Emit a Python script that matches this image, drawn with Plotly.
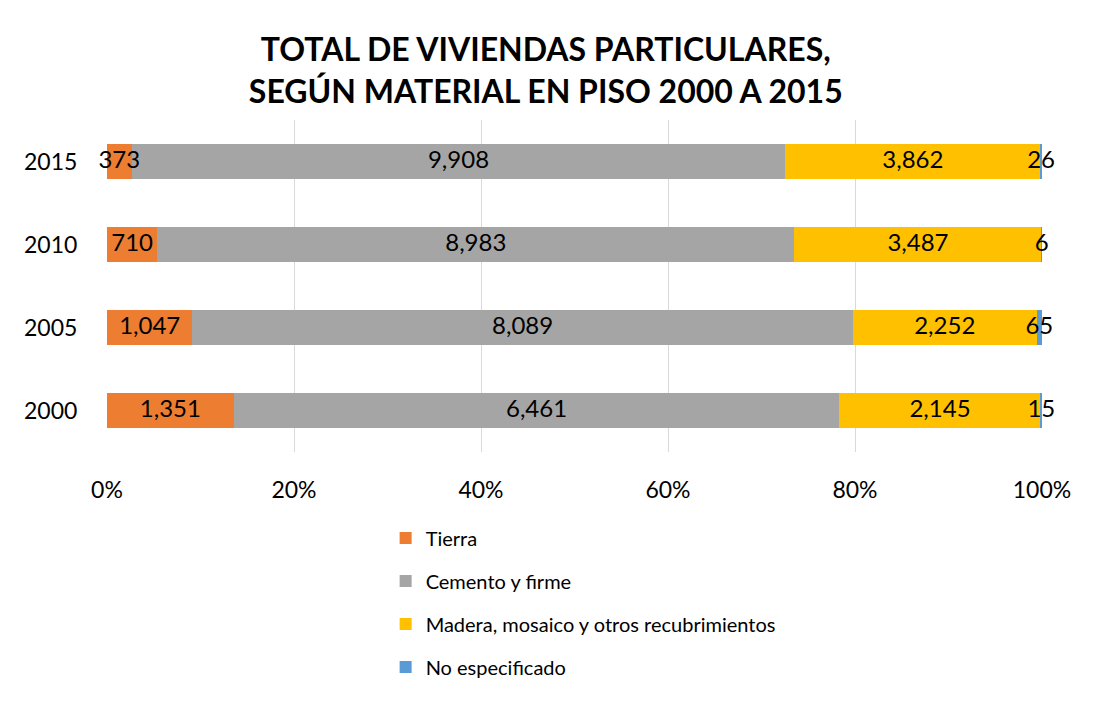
import plotly.graph_objects as go

# años (de abajo hacia arriba)
years = ["2000", "2005", "2010", "2015"]

# viviendas por material en piso
tierra = [1351, 1047, 710, 373]
cemento = [6461, 8089, 8983, 9908]
madera = [2145, 2252, 3487, 3862]
no_espec = [15, 65, 6, 26]

series = [
    ("Tierra", tierra, "#ED7D31"),
    ("Cemento y firme", cemento, "#A5A5A5"),
    ("Madera, mosaico y otros recubrimientos", madera, "#FFC000"),
    ("No especificado", no_espec, "#5B9BD5"),
]

FONT = "Lato"

totals = [sum(s[1][i] for s in series) for i in range(len(years))]

fig = go.Figure()
lab_x, lab_y, lab_t = [], [], []
base = [0.0] * len(years)
for name, vals, color in series:
    pct = [v / t * 100 for v, t in zip(vals, totals)]
    fig.add_trace(go.Bar(
        y=years, x=pct, name=name, orientation="h",
        marker=dict(color=color, line=dict(width=0)),
        legendgroup=name, hoverinfo="skip",
    ))
    for i, p in enumerate(pct):
        lab_x.append(base[i] + p / 2)
        lab_y.append(years[i])
        lab_t.append(f"{vals[i]:,}")
        base[i] += p

# etiquetas de datos encima de todas las barras
fig.add_trace(go.Scatter(
    x=lab_x, y=lab_y, text=lab_t, mode="text",
    textposition="middle center",
    textfont=dict(family=FONT, size=24, color="#000000"),
    showlegend=False, cliponaxis=False, hoverinfo="skip",
))

# la página tiene un margen de 8px alrededor de la figura
W, H = 1102, 708
ml, mr, mt, mb = 99, 68, 112, 264

fig.update_layout(
    width=W, height=H,
    barmode="stack", bargap=0.58,
    paper_bgcolor="white", plot_bgcolor="white",
    margin=dict(l=ml, r=mr, t=mt, b=mb),
    font=dict(family=FONT, color="#000000"),
    title=dict(
        text="<b>TOTAL DE VIVIENDAS PARTICULARES,<br>SEGÚN MATERIAL EN PISO 2000 A 2015</b>",
        x=0.488, xanchor="center", y=0.925, yanchor="top",
        font=dict(family=FONT, size=32, color="#000000"),
    ),
    legend=dict(
        orientation="v", x=0.298, xanchor="left", y=-0.2, yanchor="top",
        font=dict(family=FONT, size=20, color="#000000"),
        tracegroupgap=14, itemwidth=30,
        traceorder="grouped",
    ),
    xaxis=dict(
        range=[0, 100], dtick=20, ticksuffix="%",
        showgrid=True, gridcolor="#D9D9D9", gridwidth=1,
        zeroline=False, showline=False,
        ticks="outside", ticklen=17, tickcolor="rgba(0,0,0,0)",
        tickfont=dict(family=FONT, size=23, color="#000000"),
    ),
    yaxis=dict(
        showgrid=False, showline=False,
        ticks="outside", ticklen=24, tickcolor="rgba(0,0,0,0)",
        tickfont=dict(family=FONT, size=23, color="#000000"),
    ),
    shapes=[dict(
        type="line", xref="paper", yref="paper",
        x0=1 + (mr - 9) / (W - ml - mr), x1=1 + (mr - 9) / (W - ml - mr),
        y0=-2, y1=2, line=dict(color="#D9D9D9", width=2),
    )],
)

fig.write_html("out.html")
